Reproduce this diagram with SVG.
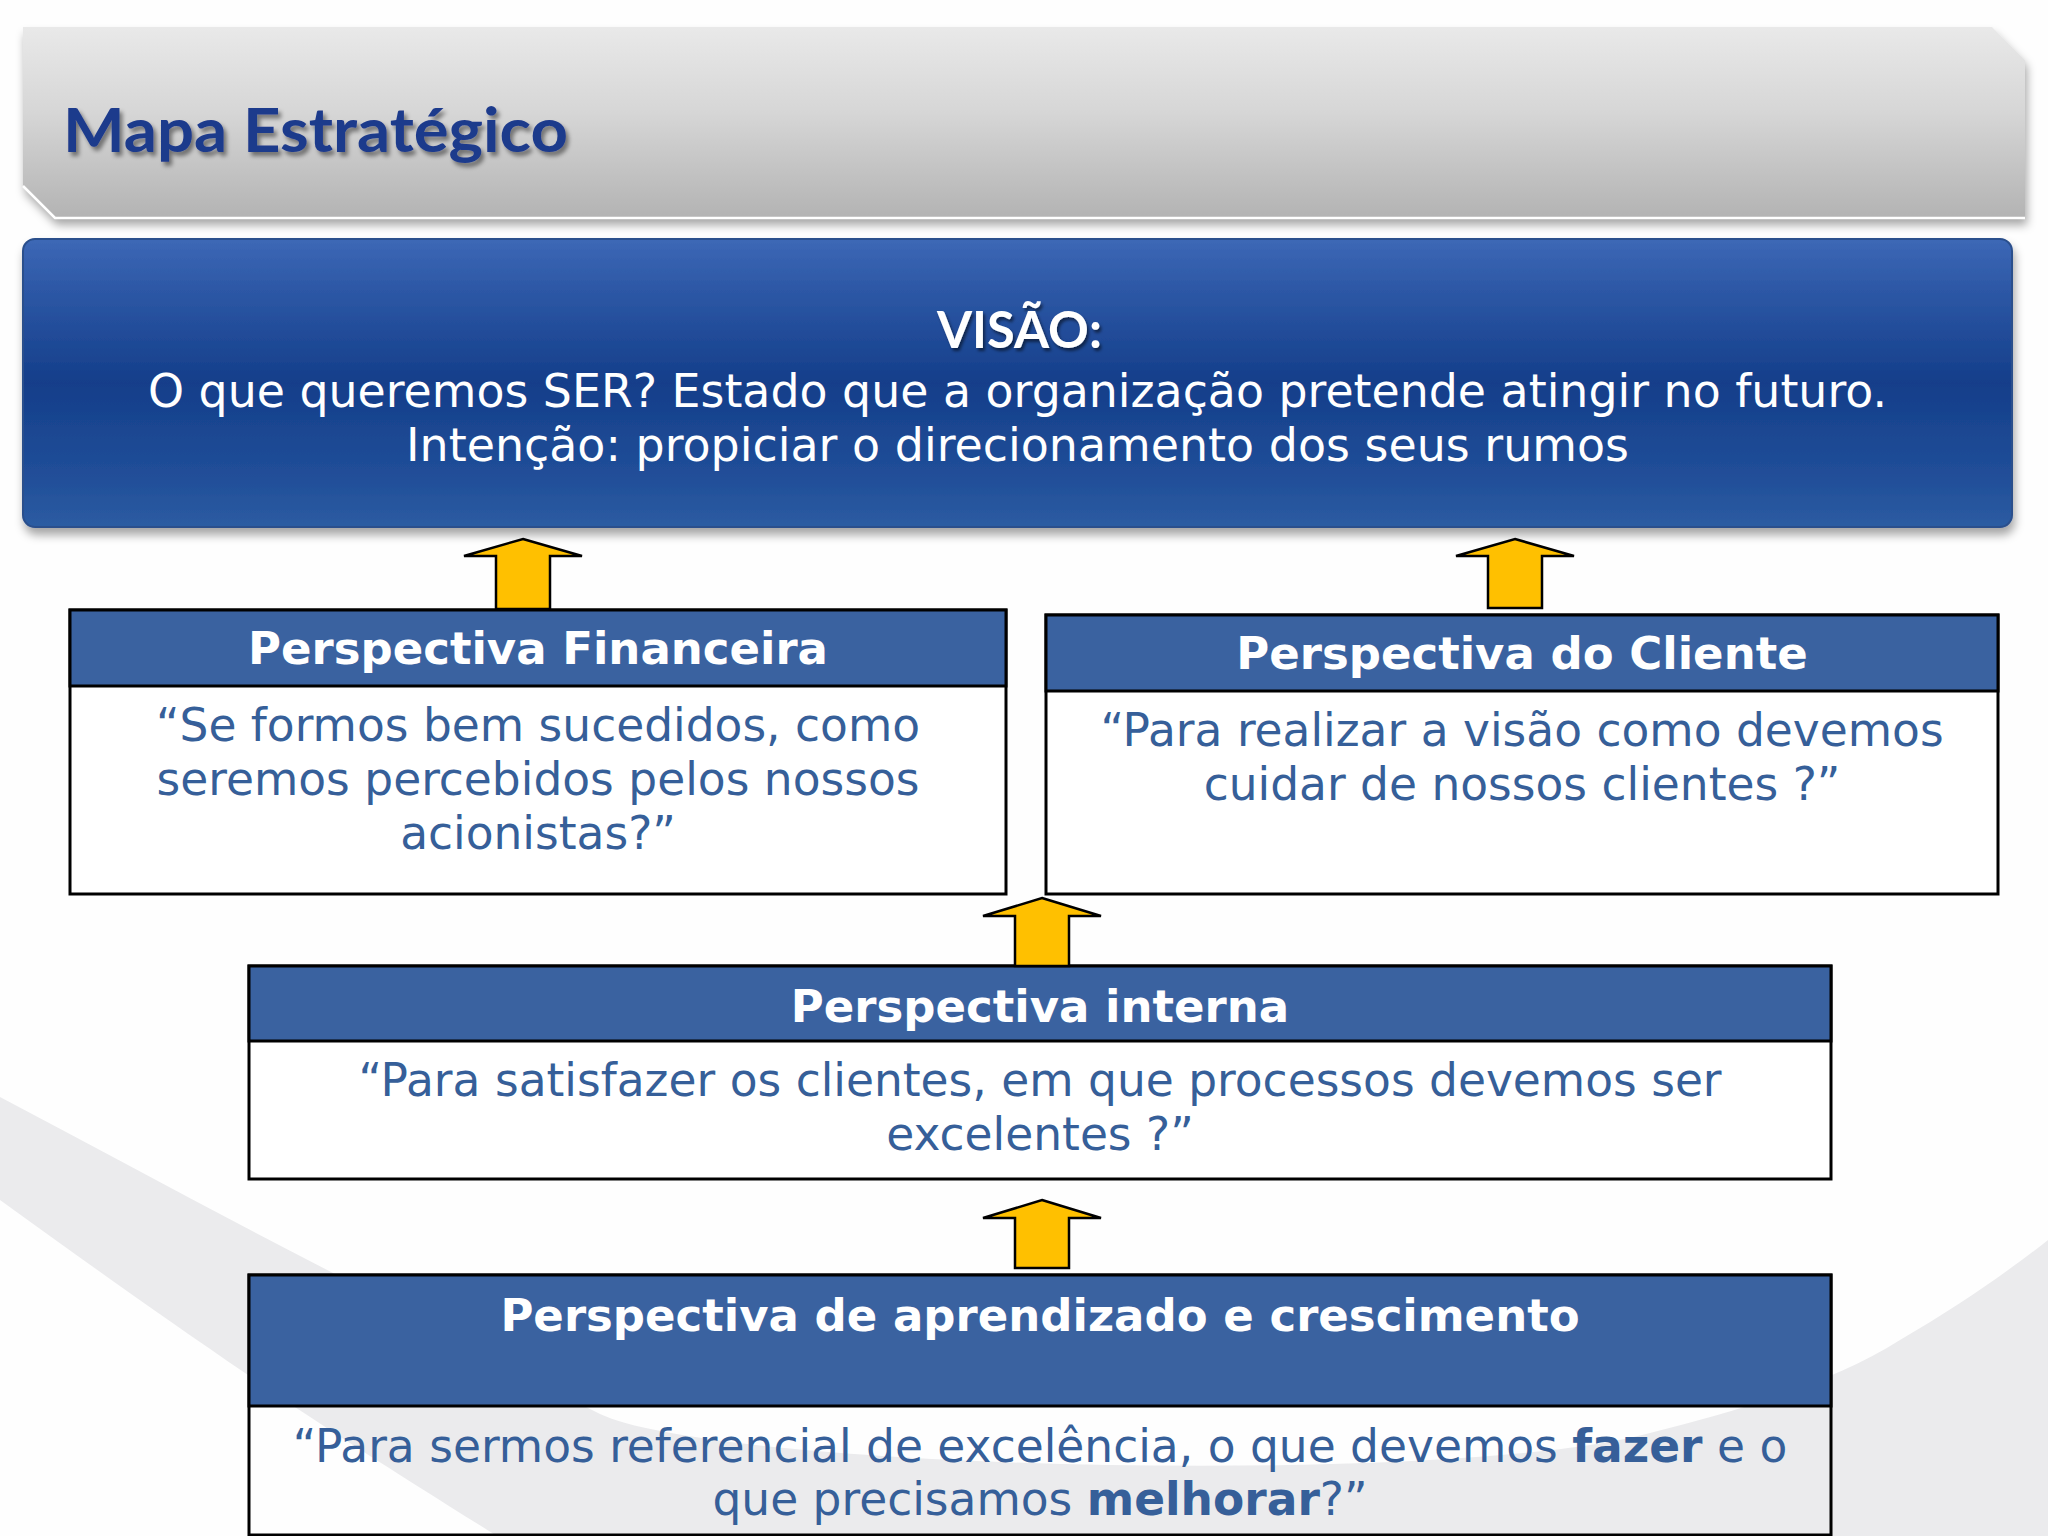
<svg xmlns="http://www.w3.org/2000/svg" width="2048" height="1536" viewBox="0 0 2048 1536">
  <defs>
    <style>
      .hdr { fill: #3a62a0; stroke: #000; stroke-width: 3; }
      .body { fill: #ffffff; stroke: #000; stroke-width: 3; }
      .bodyT { fill: none; stroke: #000; stroke-width: 3; }
      .htxt { font-family: "DejaVu Sans", Verdana, sans-serif; font-weight: bold; font-size: 45px; fill: #ffffff; text-anchor: middle; }
      .btxt { font-family: "DejaVu Sans", Verdana, sans-serif; font-size: 45.5px; fill: #365f99; text-anchor: middle; }
      .vtxt { font-family: "DejaVu Sans", Verdana, sans-serif; font-size: 45.5px; fill: #ffffff; }
      .arrow { fill: #ffc000; stroke: #000; stroke-width: 2.5; stroke-linejoin: miter; }
    </style>
    <linearGradient id="gTitle" x1="0" y1="0" x2="0" y2="1">
      <stop offset="0" stop-color="#e9e9e9"/>
      <stop offset="0.45" stop-color="#d6d6d6"/>
      <stop offset="1" stop-color="#b3b3b3"/>
    </linearGradient>
    <linearGradient id="gVisao" x1="0" y1="0" x2="0" y2="1">
      <stop offset="0" stop-color="#3d68b6"/>
      <stop offset="0.15" stop-color="#2f5aa8"/>
      <stop offset="0.5" stop-color="#143e8a"/>
      <stop offset="0.85" stop-color="#22509a"/>
      <stop offset="1" stop-color="#2c5ca2"/>
    </linearGradient>
    <filter id="shBar" x="-5%" y="-20%" width="110%" height="150%">
      <feDropShadow dx="2" dy="7" stdDeviation="5" flood-color="#000" flood-opacity="0.35"/>
    </filter>
    <filter id="shTxt" x="-10%" y="-30%" width="120%" height="160%">
      <feDropShadow dx="3" dy="4" stdDeviation="2" flood-color="#000" flood-opacity="0.45"/>
    </filter>
    <filter id="shTxt2" x="-10%" y="-30%" width="120%" height="160%">
      <feDropShadow dx="2" dy="3" stdDeviation="1.5" flood-color="#000" flood-opacity="0.5"/>
    </filter>
  </defs>

  <!-- background -->
  <rect x="0" y="0" width="2048" height="1536" fill="#fefefe"/>
  <g id="background-swoosh" fill="#ebebed">
    <path d="M0,1097 C110,1155 220,1215 333,1273 C420,1318 520,1375 600,1414 C720,1470 1450,1487 1650,1433 C1740,1410 1832,1383 1900,1340 C1960,1305 2010,1270 2048,1240 L2048,1536 L497,1536 C400,1475 320,1425 248,1375 C160,1315 80,1258 0,1200 Z"/>
  </g>

  <!-- title bar -->
  <g id="title">
    <polygon points="23,27 1992,27 2025,60 2025,218 55,218 23,186" fill="url(#gTitle)" filter="url(#shBar)"/>
    <polyline points="23,186 55,218 2025,218" fill="none" stroke="#ffffff" stroke-width="2.5"/>
    <text x="63" y="152" font-family="Lato, 'Open Sans', sans-serif" font-weight="bold" font-size="61" fill="#1f3a8c" textLength="505" lengthAdjust="spacingAndGlyphs" filter="url(#shTxt)">Mapa Estratégico</text>
  </g>

  <!-- vision box -->
  <g id="visao">
    <rect x="23" y="239" width="1989" height="288" rx="12" ry="12" fill="url(#gVisao)" stroke="#2a4f8c" stroke-width="2" filter="url(#shBar)"/>
    <text x="937" y="348" font-family="Lato, 'Open Sans', sans-serif" font-weight="bold" font-size="51" fill="#ffffff" textLength="165" lengthAdjust="spacingAndGlyphs" filter="url(#shTxt2)">VISÃO:</text>
    <text class="vtxt" x="148" y="407" textLength="1739" lengthAdjust="spacingAndGlyphs">O que queremos SER? Estado que a organização pretende atingir no futuro.</text>
    <text class="vtxt" x="406" y="461" textLength="1223" lengthAdjust="spacingAndGlyphs">Intenção: propiciar o direcionamento dos seus rumos</text>
  </g>

  <!-- Perspectiva Financeira -->
  <g id="financeira">
    <rect class="body" x="70" y="610" width="936" height="284"/>
    <rect class="hdr" x="70" y="610" width="936" height="76"/>
    <text class="htxt" x="538" y="664">Perspectiva Financeira</text>
    <text class="btxt" x="538" y="741">“Se formos bem sucedidos, como</text>
    <text class="btxt" x="538" y="795">seremos percebidos pelos nossos</text>
    <text class="btxt" x="538" y="849">acionistas?”</text>
  </g>

  <!-- Perspectiva do Cliente -->
  <g id="cliente">
    <rect class="body" x="1046" y="615" width="952" height="279"/>
    <rect class="hdr" x="1046" y="615" width="952" height="76"/>
    <text class="htxt" x="1522" y="669">Perspectiva do Cliente</text>
    <text class="btxt" x="1522" y="746">“Para realizar a visão como devemos</text>
    <text class="btxt" x="1522" y="800">cuidar de nossos clientes ?”</text>
  </g>

  <!-- Perspectiva interna -->
  <g id="interna">
    <rect class="body" x="249" y="966" width="1582" height="213"/>
    <rect class="hdr" x="249" y="966" width="1582" height="75"/>
    <text class="htxt" x="1040" y="1022">Perspectiva interna</text>
    <text class="btxt" x="1040" y="1096">“Para satisfazer os clientes, em que processos devemos ser</text>
    <text class="btxt" x="1040" y="1150">excelentes ?”</text>
  </g>

  <!-- Perspectiva de aprendizado e crescimento -->
  <g id="aprendizado">
    <rect class="bodyT" x="249" y="1275" width="1582" height="260"/>
    <rect class="hdr" x="249" y="1275" width="1582" height="131"/>
    <text class="htxt" x="1040" y="1331">Perspectiva de aprendizado e crescimento</text>
    <text class="btxt" x="1040" y="1462">“Para sermos referencial de excelência, o que devemos <tspan font-weight="bold">fazer</tspan> e o</text>
    <text class="btxt" x="1040" y="1515">que precisamos <tspan font-weight="bold">melhorar</tspan>?”</text>
  </g>

  <!-- connectors (arrows) -->
  <g id="connectors">
    <polygon class="arrow" points="523,539 582,556 550,556 550,609 496,609 496,556 464,556"/>
    <polygon class="arrow" points="1515,539 1574,556 1542,556 1542,608 1488,608 1488,556 1456,556"/>
    <polygon class="arrow" points="1042,898 1101,916 1069,916 1069,966 1015,966 1015,916 983,916"/>
    <polygon class="arrow" points="1042,1200 1101,1218 1069,1218 1069,1268 1015,1268 1015,1218 983,1218"/>
  </g>
</svg>
